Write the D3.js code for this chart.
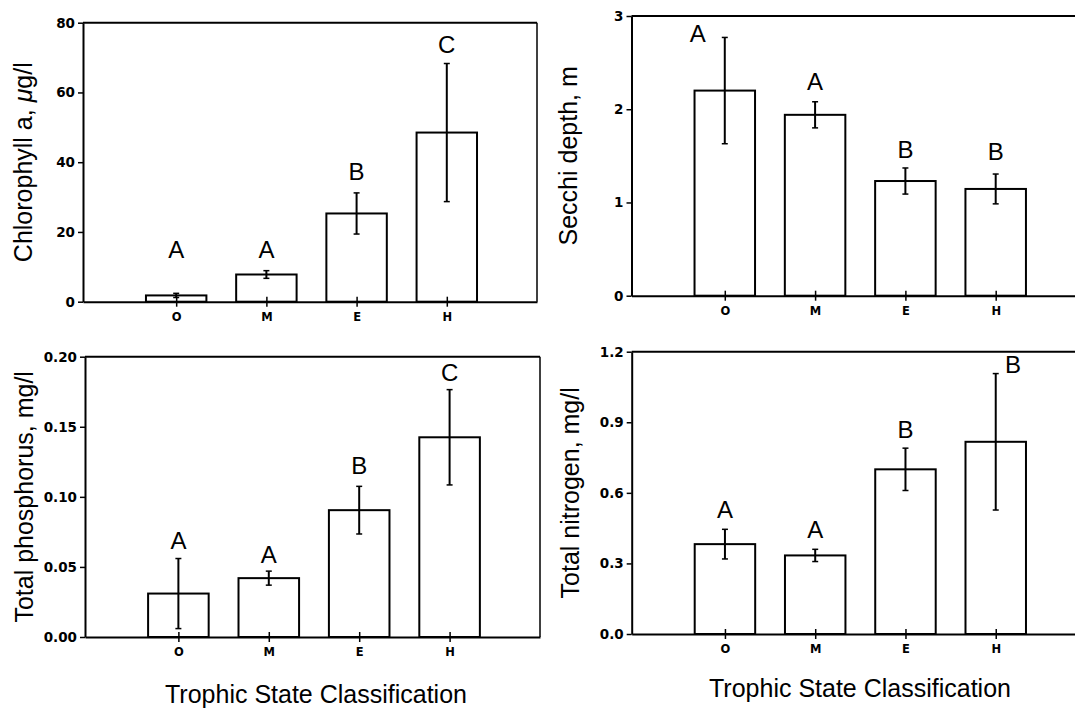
<!DOCTYPE html>
<html>
<head>
<meta charset="utf-8">
<script src="https://cdn.jsdelivr.net/npm/d3@7"></script>
<style>
  body { margin: 0; background: #fff; }
</style>
</head>
<body>
<div id="chart"></div>
<script>
// categories (trophic state) and the shared x title
var classes = ["O", "M", "E", "H"];
var xTitle = "Trophic State Classification";

// chlorophyll a, ug/l
var chlMean = [1.8, 7.8, 25.3, 48.5];
var chlErr = [0.6, 1.1, 5.9, 19.8];
var chlGroup = ["A", "A", "B", "C"];
var chlGroupAt = [12.4, 12.4, 34.9, 71.2];
var chlGroupShift = [0, 0, 0, 0];
var chlTicks = [0, 20, 40, 60, 80];

// secchi depth, m
var secchiMean = [2.2, 1.94, 1.23, 1.145];
var secchiErr = [0.57, 0.14, 0.14, 0.16];
var secchiGroup = ["A", "A", "B", "B"];
var secchiGroupAt = [2.72, 2.21, 1.48, 1.46];
var secchiGroupShift = [-0.3, 0, 0, 0];
var secchiTicks = [0, 1, 2, 3];

// total phosphorus, mg/l
var tpMean = [0.031, 0.042, 0.0905, 0.1425];
var tpErr = [0.025, 0.005, 0.017, 0.034];
var tpGroup = ["A", "A", "B", "C"];
var tpGroupAt = [0.063, 0.053, 0.116, 0.183];
var tpGroupShift = [0, 0, 0, 0];
var tpTicks = [0, 0.05, 0.10, 0.15, 0.20];

// total nitrogen, mg/l
var tnMean = [0.382, 0.334, 0.70, 0.817];
var tnErr = [0.063, 0.026, 0.09, 0.29];
var tnGroup = ["A", "A", "B", "B"];
var tnGroupAt = [0.492, 0.407, 0.832, 1.108];
var tnGroupShift = [0, 0, 0, 0.19];
var tnTicks = [0, 0.3, 0.6, 0.9, 1.2];

var W = 1075, H = 708;

var svg = d3.select("#chart")
    .append("svg")
    .attr("width", W)
    .attr("height", H);

var bigFont = "'Liberation Sans', Arial, sans-serif";
var tickFont = "'DejaVu Sans', sans-serif";

function drawPanel(p, mean, err, group, groupAt, groupShift, ticks, fmt, yMax) {

    var g = svg.append("g");

    // x positions: categories sit at 1..4
    var x = d3.scaleLinear()
        .domain([-0.033, 5])
        .range([p.x0, p.x1]);

    var y = d3.scaleLinear()
        .domain([0, yMax])
        .range([p.y0, p.y1]);

    var step = x(2) - x(1);
    var bw = step * 0.67;

    // bars
    g.selectAll(".bar")
        .data(mean)
        .enter()
        .append("rect")
        .attr("x", function (d, i) { return x(i + 1) - bw / 2 })
        .attr("y", function (d) { return y(d) })
        .attr("width", bw)
        .attr("height", function (d) { return y(0) - y(d) })
        .attr("fill", "white")
        .attr("stroke", "black")
        .attr("stroke-width", 2);

    // error bars
    var eb = g.selectAll(".err")
        .data(mean)
        .enter()
        .append("g");
    eb.append("line")
        .attr("x1", function (d, i) { return x(i + 1) })
        .attr("x2", function (d, i) { return x(i + 1) })
        .attr("y1", function (d, i) { return y(d + err[i]) })
        .attr("y2", function (d, i) { return y(Math.max(0, d - err[i])) })
        .attr("stroke", "black")
        .attr("stroke-width", 2);
    eb.append("line")
        .attr("x1", function (d, i) { return x(i + 1) - 3 })
        .attr("x2", function (d, i) { return x(i + 1) + 3 })
        .attr("y1", function (d, i) { return y(d + err[i]) })
        .attr("y2", function (d, i) { return y(d + err[i]) })
        .attr("stroke", "black")
        .attr("stroke-width", 1.5);
    eb.append("line")
        .attr("x1", function (d, i) { return x(i + 1) - 3 })
        .attr("x2", function (d, i) { return x(i + 1) + 3 })
        .attr("y1", function (d, i) { return y(Math.max(0, d - err[i])) })
        .attr("y2", function (d, i) { return y(Math.max(0, d - err[i])) })
        .attr("stroke", "black")
        .attr("stroke-width", 1.5);

    // group letters
    g.selectAll(".grp")
        .data(group)
        .enter()
        .append("text")
        .attr("x", function (d, i) { return x(i + 1 + groupShift[i]) })
        .attr("y", function (d, i) { return y(groupAt[i]) })
        .attr("text-anchor", "middle")
        .style("font-family", bigFont)
        .style("font-size", "24px")
        .text(function (d) { return d });

    // top and right frame
    g.append("line")
        .attr("x1", p.x0).attr("x2", p.x1)
        .attr("y1", y(yMax)).attr("y2", y(yMax))
        .attr("stroke", "black").attr("stroke-width", 2);
    g.append("line")
        .attr("x1", p.x1).attr("x2", p.x1)
        .attr("y1", y(yMax)).attr("y2", y(0))
        .attr("stroke", "black").attr("stroke-width", 1.5);

    // Y axis
    var ya = g.append("g")
        .attr("transform", "translate(" + p.x0 + ",0)")
        .call(d3.axisLeft(y).tickValues(ticks).tickSize(5).tickSizeOuter(0).tickPadding(3).tickFormat(fmt));
    ya.select(".domain").attr("stroke-width", 2);
    ya.selectAll(".tick line").attr("stroke-width", 1.5);
    ya.selectAll("text")
        .style("font-family", tickFont)
        .style("font-weight", "bold")
        .style("font-size", "13.5px");

    // X axis, ticks cross the line
    var xa = g.append("g")
        .attr("transform", "translate(0," + p.y0 + ")")
        .call(d3.axisBottom(x).tickValues([1, 2, 3, 4]).tickSize(5).tickSizeOuter(0).tickPadding(6)
            .tickFormat(function (d) { return classes[d - 1] }));
    xa.select(".domain").attr("stroke-width", 2);
    xa.selectAll(".tick line").attr("y1", -5).attr("stroke-width", 1.5);
    xa.selectAll("text")
        .style("font-family", tickFont)
        .style("font-weight", "bold")
        .style("font-size", "11.5px");

    // Y axis label
    var yl = g.append("text")
        .attr("text-anchor", "middle")
        .attr("transform", "translate(" + p.ylx + "," + ((p.y0 + p.y1) / 2) + ") rotate(-90)")
        .style("font-family", bigFont)
        .style("font-size", "25px");
    p.yLabel.forEach(function (part) {
        yl.append("tspan")
            .style("font-style", part[1] ? "italic" : "normal")
            .text(part[0]);
    });

    // X axis label
    if (p.xlx) {
        g.append("text")
            .attr("text-anchor", "middle")
            .attr("x", p.xlx)
            .attr("y", p.xly)
            .style("font-family", bigFont)
            .style("font-size", "25px")
            .text(xTitle);
    }
}

drawPanel({ x0: 83, x1: 537, y0: 301.7, y1: 22.7, ylx: 32,
            yLabel: [["Chlorophyll a, ", false], ["\u03bc", true], ["g/l", false]] },
    chlMean, chlErr, chlGroup, chlGroupAt, chlGroupShift, chlTicks, d3.format("d"), 80);

drawPanel({ x0: 631.5, x1: 1086, y0: 295.7, y1: 16, ylx: 577,
            yLabel: [["Secchi depth, m", false]] },
    secchiMean, secchiErr, secchiGroup, secchiGroupAt, secchiGroupShift, secchiTicks, d3.format("d"), 3);

drawPanel({ x0: 85, x1: 540, y0: 637, y1: 356.7, ylx: 32.5, xlx: 316, xly: 703,
            yLabel: [["Total phosphorus, mg/l", false]] },
    tpMean, tpErr, tpGroup, tpGroupAt, tpGroupShift, tpTicks, d3.format(".2f"), 0.2);

drawPanel({ x0: 631.7, x1: 1086, y0: 634, y1: 351.7, ylx: 579, xlx: 860, xly: 697,
            yLabel: [["Total nitrogen, mg/l", false]] },
    tnMean, tnErr, tnGroup, tnGroupAt, tnGroupShift, tnTicks, d3.format(".1f"), 1.2);
</script>
</body>
</html>
